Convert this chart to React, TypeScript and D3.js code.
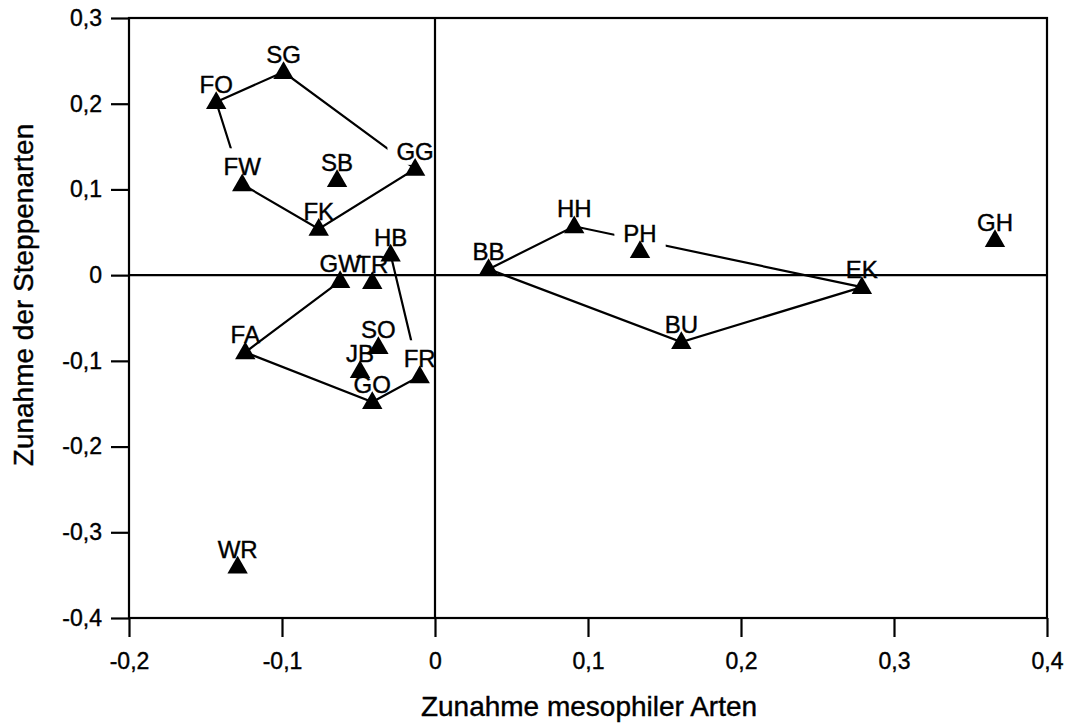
import React, { useEffect, useRef } from 'react';
import * as d3 from 'd3';

// site codes with their two scores
const names = ['FO', 'SG', 'GG', 'SB', 'FW', 'FK', 'HB', 'GW', 'TR', 'FA', 'SO', 'JB', 'GO', 'FR', 'WR', 'BB', 'HH', 'PH', 'BU', 'EK', 'GH'];
const mesophil = [-0.143, -0.099, -0.013, -0.064, -0.126, -0.076, -0.029, -0.062, -0.041, -0.124, -0.037, -0.049, -0.041, -0.010, -0.129, 0.035, 0.091, 0.134, 0.161, 0.279, 0.366];
const steppe = [0.202, 0.237, 0.124, 0.111, 0.106, 0.054, 0.024, -0.007, -0.008, -0.090, -0.084, -0.112, -0.148, -0.118, -0.340, 0.007, 0.057, 0.028, -0.078, -0.014, 0.041];

// connected groups
const groupA = ['FO', 'SG', 'GG', 'FK', 'FW', 'FO'];
const groupB = ['GW', 'FA', 'GO', 'FR', 'HB'];
const groupC = ['BB', 'HH', 'EK', 'BU', 'BB'];

// labels that sit on a white box
const boxedLabels = ['FW', 'GG', 'FR', 'PH'];

const xTicks = [-0.2, -0.1, 0, 0.1, 0.2, 0.3, 0.4];
const yTicks = [-0.4, -0.3, -0.2, -0.1, 0, 0.1, 0.2, 0.3];

const fmt = (v: number) => (v === 0 ? '0' : String(+v.toFixed(1)).replace('.', ','));

const App = () => {
  const svgRef = useRef<SVGSVGElement>(null);

  useEffect(() => {
    const svg = d3.select(svgRef.current);
    svg.selectAll('*').remove();

    const font = '"Liberation Sans", Arial, sans-serif';
    const x = d3.scaleLinear().domain([-0.2, 0.4]).range([129, 1047]);
    const y = d3.scaleLinear().domain([-0.4, 0.3]).range([618, 18]);

    const data = names.map((n, i) => ({ name: n, x: mesophil[i], y: steppe[i] }));
    const byName = new Map(data.map((d) => [d.name, d]));

    const line = d3.line<any>()
      .x((d) => x(d.x))
      .y((d) => y(d.y));

    [groupA, groupB, groupC].forEach((grp) => {
      svg.append('path')
        .datum(grp.map((n) => byName.get(n)))
        .attr('fill', 'none')
        .attr('stroke', '#000')
        .attr('stroke-width', 2.2)
        .attr('d', line);
    });

    // labels
    data.forEach((d) => {
      const g = svg.append('g');
      const t = g.append('text')
        .attr('x', x(d.x))
        .attr('y', y(d.y) - 9)
        .attr('text-anchor', 'middle')
        .style('font-family', font)
        .style('font-size', '24px')
        .attr('fill', '#000')
        .attr('stroke', '#000')
        .attr('stroke-width', 0.4)
        .text(d.name);
      if (boxedLabels.includes(d.name)) {
        const b = (t.node() as SVGTextElement).getBBox();
        g.insert('rect', 'text')
          .attr('x', b.x - 9)
          .attr('y', b.y - 5)
          .attr('width', b.width + 18)
          .attr('height', b.height + 5)
          .attr('fill', '#fff');
      }
    });

    // zero lines
    svg.append('line')
      .attr('x1', x(-0.2)).attr('x2', x(0.4))
      .attr('y1', y(0)).attr('y2', y(0))
      .attr('stroke', '#000').attr('stroke-width', 2.2);
    svg.append('line')
      .attr('x1', x(0)).attr('x2', x(0))
      .attr('y1', y(0.3)).attr('y2', y(-0.4))
      .attr('stroke', '#000').attr('stroke-width', 2.2);

    // triangles
    const tri = d3.symbol().type(d3.symbolTriangle).size(180);
    svg.selectAll('path.pt')
      .data(data)
      .join('path')
      .attr('class', 'pt')
      .attr('d', tri)
      .attr('transform', (d) => `translate(${x(d.x)},${y(d.y) + 1})`)
      .attr('fill', '#000');

    // frame
    svg.append('rect')
      .attr('x', x(-0.2)).attr('y', y(0.3))
      .attr('width', x(0.4) - x(-0.2))
      .attr('height', y(-0.4) - y(0.3))
      .attr('fill', 'none')
      .attr('stroke', '#000')
      .attr('stroke-width', 2.2);

    const xAxis = d3.axisBottom(x).tickValues(xTicks).tickSize(19).tickSizeOuter(0).tickPadding(16).tickFormat((d) => fmt(+d));
    const yAxis = d3.axisLeft(y).tickValues(yTicks).tickSize(18).tickSizeOuter(0).tickPadding(9).tickFormat((d) => fmt(+d));

    const gx = svg.append('g').attr('transform', `translate(0,${y(-0.4)})`).call(xAxis);
    const gy = svg.append('g').attr('transform', `translate(${x(-0.2)},0)`).call(yAxis);
    [gx, gy].forEach((g) => {
      g.select('.domain').remove();
      g.selectAll('line').attr('stroke', '#000').attr('stroke-width', 2.2);
      g.selectAll('text')
        .attr('fill', '#000')
        .attr('stroke', '#000')
        .attr('stroke-width', 0.4)
        .style('font-family', font)
        .style('font-size', '23px');
    });

    svg.append('text')
      .attr('x', 589)
      .attr('y', 716)
      .attr('text-anchor', 'middle')
      .attr('stroke', '#000')
      .attr('stroke-width', 0.4)
      .style('font-family', font)
      .style('font-size', '28px')
      .text('Zunahme mesophiler Arten');

    svg.append('text')
      .attr('transform', 'translate(33,295) rotate(-90)')
      .attr('text-anchor', 'middle')
      .attr('stroke', '#000')
      .attr('stroke-width', 0.4)
      .style('font-family', font)
      .style('font-size', '28px')
      .text('Zunahme der Steppenarten');
  }, []);

  return (
    <svg
      ref={svgRef}
      width={1071}
      height={723}
      style={{ position: 'absolute', left: 0, top: 0, background: '#fff' }}
    />
  );
};

export default App;
